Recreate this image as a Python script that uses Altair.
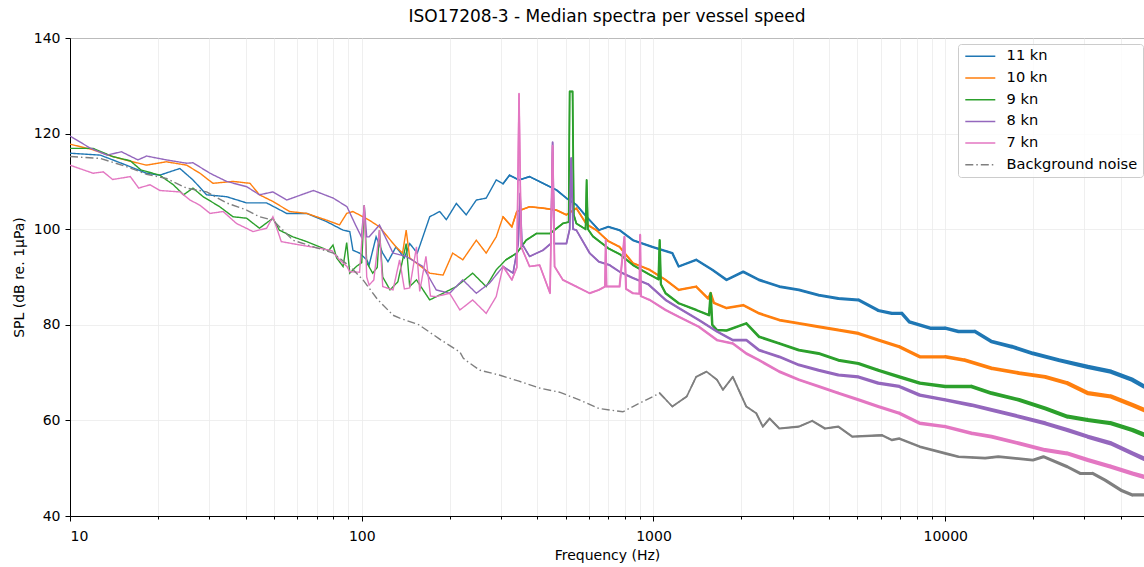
import altair as alt
import pandas as pd

SERIES = ["11 kn", "10 kn", "9 kn", "8 kn", "7 kn", "Background noise"]
COLORS = ["#1f77b4", "#ff7f0e", "#2ca02c", "#9467bd", "#e377c2", "#7f7f7f"]

X_TICKS = [10, 20, 30, 40, 50, 60, 70, 80, 90,
           100, 200, 300, 400, 500, 600, 700, 800, 900,
           1000, 2000, 3000, 4000, 5000, 6000, 7000, 8000, 9000,
           10000, 20000, 30000, 40000]
X_MAJOR = [10, 100, 1000, 10000]
Y_TICKS = [40, 60, 80, 100, 120, 140]

# (frequency Hz, SPL dB)
s11 = [(10, 115.9), (12.7, 115.5), (15.6, 113.4), (18.3, 111.7), (20.3, 111.3), (23.8, 112.7),
       (26.4, 110.3), (29.4, 107.2), (34.4, 106.8), (40.3, 105.5), (47.2, 105.5), (55.3, 103.3),
       (64.8, 103.3), (75.7, 101.6), (86.3, 99.8), (91, 99.5), (93.3, 95.6), (98.3, 95.0),
       (104, 93.6), (106, 92.5), (112, 98.4), (118, 95.0), (123, 93.2), (131, 96.3), (140, 94.0),
       (146, 97.0), (155, 95.0), (162, 98.4), (171, 102.6), (185, 103.7), (195, 102.0),
       (211, 105.4), (228, 103.0), (247, 106.1), (267, 106.5), (289, 110.3), (305, 109.5),
       (321, 111.3), (346, 110.3), (376, 111.0), (418, 109.6), (465, 108.2), (503, 106.5),
       (544, 105.1), (590, 102.6), (650, 99.8), (700, 100.5), (765, 99.8), (850, 97.7),
       (990, 96.3), (1160, 95.0), (1220, 92.2), (1400, 93.6), (1590, 91.5), (1780, 89.4),
       (2030, 91.1), (2300, 89.4), (2700, 88.0), (3150, 87.3), (3680, 86.2), (4300, 85.5),
       (5040, 85.2), (5890, 83.0), (6560, 82.4), (7100, 82.4), (7530, 80.6), (8880, 79.3),
       (10000, 79.3), (11100, 78.6), (12650, 78.6), (14400, 76.5), (16980, 75.4), (19970, 74.0),
       (24500, 72.6), (30800, 71.2), (37000, 70.2), (43800, 68.5), (48000, 67.1)]

s10 = [(10, 117.8), (12, 116.6), (14, 115.2), (16.4, 114.1), (18.3, 113.4), (21.4, 114.1),
       (25.1, 113.4), (27.9, 111.7), (30.9, 109.6), (36.2, 110.0), (41.4, 109.6), (44.6, 107.2),
       (49.6, 105.8), (56.6, 103.7), (64.8, 103.3), (75.7, 101.9), (83.9, 100.9), (88.8, 103.3),
       (93.2, 103.7), (101, 102.6), (106, 101.9), (115, 100.5), (131, 96.3), (138, 95.0),
       (142, 99.8), (146, 94.0), (154, 92.9), (171, 90.8), (190, 90.4), (205, 95.0), (222, 93.6),
       (247, 97.7), (267, 95.0), (289, 98.4), (305, 102.6), (327, 100.5), (340, 103.7),
       (376, 104.7), (418, 104.4), (465, 104.0), (503, 103.0), (544, 104.4), (590, 101.0),
       (637, 99.8), (700, 97.5), (765, 96.3), (850, 92.9), (970, 91.5), (1100, 89.4),
       (1220, 87.3), (1400, 88.0), (1540, 85.5), (1570, 86.6), (1610, 84.6), (1780, 83.5),
       (2030, 84.1), (2300, 82.4), (2700, 81.0), (3150, 80.3), (3680, 79.6), (4300, 78.9),
       (5040, 78.2), (5890, 76.8), (6960, 75.4), (8180, 73.3), (10000, 73.3), (11700, 72.6),
       (14400, 70.9), (17900, 69.9), (22000, 69.1), (26200, 67.8), (30800, 65.7), (37000, 65.0),
       (43800, 63.2), (48000, 62.2)]

s9 = [(10, 116.9), (12, 116.9), (14, 115.2), (16.1, 114.3), (17.5, 112.4), (20.3, 111.3),
      (22.6, 109.3), (24.5, 107.2), (26.4, 108.6), (28.6, 106.8), (32.6, 104.7), (36.2, 102.6),
      (40.3, 102.3), (44.6, 100.2), (49.6, 102.3), (52.2, 99.8), (58.1, 98.4), (64.8, 97.4),
      (71.8, 96.3), (77, 95.5), (79.7, 96.7), (82, 94.0), (86.3, 92.2), (88.8, 97.2), (91, 90.8),
      (95.8, 92.2), (100, 93.0), (102, 105.0), (104, 93.0), (109, 90.8), (113, 92.0), (115, 99.8),
      (118, 90.0), (125, 87.3), (133, 89.0), (142, 97.0), (146, 88.0), (154, 89.4), (171, 85.2),
      (190, 86.6), (211, 88.0), (240, 90.8), (267, 88.0), (289, 91.5), (312, 93.6), (340, 95.0),
      (366, 97.7), (397, 99.1), (442, 99.1), (489, 101.2), (512, 101.5), (516, 128.8),
      (528, 128.8), (533, 103.0), (544, 101.2), (585, 100.0), (590, 110.3), (596, 100.0),
      (620, 98.5), (700, 96.0), (765, 94.8), (850, 92.5), (970, 90.5), (1040, 89.5),
      (1050, 97.7), (1060, 88.5), (1100, 86.6), (1220, 84.5), (1400, 83.1), (1550, 82.0),
      (1570, 86.6), (1590, 80.0), (1650, 78.9), (1780, 78.8), (2080, 80.3), (2300, 77.5),
      (2700, 76.1), (3150, 74.7), (3680, 74.0), (4300, 72.6), (5040, 71.9), (5890, 70.5),
      (6960, 69.1), (8180, 67.8), (10000, 67.1), (12300, 67.1), (14400, 65.7), (17900, 64.3),
      (22000, 62.5), (26200, 60.8), (30800, 60.1), (37000, 59.4), (43800, 58.0), (48000, 57.0)]

s8 = [(10, 119.5), (11.7, 117.0), (13.4, 115.5), (15, 116.2), (17.1, 114.5), (18.3, 115.3),
      (21.4, 114.5), (25.1, 113.8), (26.4, 113.9), (30.2, 111.7), (34.4, 110.0), (40.3, 108.9),
      (44.6, 107.2), (49.6, 107.8), (55.3, 106.1), (68.3, 108.1), (79.9, 106.5), (89, 104.7),
      (95, 101.0), (99.7, 98.4), (102, 105.0), (104, 98.4), (106, 98.4), (115, 100.9),
      (128, 95.0), (142, 94.3), (162, 92.2), (180, 87.3), (200, 86.6), (222, 89.4), (247, 86.6),
      (274, 88.7), (305, 92.2), (330, 90.8), (344, 97.0), (349, 107.5), (354, 97.0), (376, 94.3),
      (418, 95.6), (445, 97.0), (451, 118.2), (457, 97.0), (475, 97.0), (503, 97.0), (516, 100.0),
      (522, 114.9), (530, 100.0), (544, 99.8), (604, 95.0), (650, 93.2), (707, 92.5),
      (765, 91.1), (850, 89.8), (958, 88.5), (1100, 85.2), (1220, 83.5), (1430, 81.0),
      (1650, 78.6), (1870, 76.8), (2080, 76.8), (2300, 74.7), (2700, 73.3), (3150, 71.6),
      (3680, 70.5), (4300, 69.5), (5040, 69.1), (5890, 67.8), (6960, 67.1), (8180, 65.3),
      (10000, 64.3), (12300, 63.2), (14400, 62.2), (17900, 60.8), (22000, 59.4), (26200, 58.0),
      (30800, 56.6), (37000, 55.2), (43800, 53.1), (48000, 52.0)]

s7 = [(10, 113.4), (12, 111.7), (13, 112.0), (14, 110.4), (16.1, 111.0), (17.2, 108.6),
      (18.8, 109.3), (20.3, 108.1), (23.8, 107.8), (25.8, 106.1), (27.9, 105.0), (30.2, 103.3),
      (33.5, 103.7), (37.2, 101.2), (42.4, 99.5), (47.2, 100.2), (49.6, 102.6), (53, 97.4),
      (61.4, 96.7), (71.8, 96.0), (79, 95.5), (83.9, 93.6), (89, 92.2), (91, 91.1), (98.3, 91.0),
      (102, 105.0), (104, 90.0), (106, 88.3), (110, 89.4), (115, 99.8), (118, 88.0), (128, 87.3),
      (134.8, 93.6), (140, 87.5), (146, 87.7), (154, 96.3), (158, 87.0), (166, 94.3), (172, 86.0),
      (180, 85.9), (200, 86.6), (217, 83.1), (240, 85.2), (267, 82.4), (289, 85.9), (305, 92.2),
      (327, 89.4), (340, 92.0), (346, 128.4), (352, 96.3), (376, 92.2), (407, 92.5), (442, 86.6),
      (451, 117.5), (458, 92.2), (489, 89.4), (544, 88.0), (604, 86.6), (650, 87.3), (682, 88.0),
      (686, 97.7), (690, 88.0), (765, 88.0), (795, 98.4), (805, 87.5), (850, 86.6), (895, 86.5),
      (900, 98.8), (905, 86.0), (970, 85.2), (1100, 83.1), (1220, 81.7), (1430, 79.6),
      (1650, 76.8), (1870, 76.1), (2080, 74.0), (2300, 72.6), (2700, 70.2), (3150, 68.5),
      (3680, 67.1), (4300, 65.7), (5040, 64.3), (5890, 62.9), (6960, 61.5), (8180, 59.4),
      (10000, 58.7), (12300, 57.3), (14400, 56.6), (17900, 55.2), (22000, 53.8), (26200, 53.1),
      (30800, 51.7), (37000, 50.3), (43800, 48.9), (48000, 48.2)]

sbg = [(10, 115.2), (12.7, 114.8), (15.6, 113.1), (18.3, 111.5), (21.4, 110.6), (25.1, 108.6),
       (29.4, 107.8), (34.4, 105.5), (40.3, 104.0), (44.6, 102.6), (49.6, 101.9), (58.1, 97.7),
       (68.3, 96.3), (79.9, 95.0), (91, 92.2), (101, 89.4), (113, 85.4), (128, 82.0),
       (135, 81.4), (157, 80.0), (185, 77.0), (217, 74.3), (223, 73.0), (228, 72.5),
       (254, 70.5), (296, 69.5), (346, 68.2), (405, 66.8), (476, 65.9), (557, 64.3), (650, 62.5),
       (785, 61.8), (850, 62.9), (1050, 65.7), (1160, 62.9), (1300, 65.0), (1400, 69.1),
       (1520, 70.2), (1650, 68.5), (1730, 66.4), (1870, 69.1), (2080, 62.9), (2250, 61.5),
       (2370, 58.7), (2500, 60.4), (2700, 58.3), (3150, 58.7), (3500, 59.9), (3870, 58.3),
       (4300, 58.7), (4800, 56.6), (6070, 56.9), (6560, 55.9), (6960, 56.2), (8180, 54.5),
       (10000, 53.1), (11100, 52.4), (13700, 52.1), (15200, 52.4), (19970, 51.7), (21700, 52.4),
       (26200, 50.3), (29000, 48.9), (32000, 48.9), (35300, 47.5), (40000, 45.4), (43800, 44.4),
       (48000, 44.4)]

SERIES_DATA = [s11, s10, s9, s8, s7, sbg]

rows = []
for name, pts in zip(SERIES, SERIES_DATA):
    for f, v in pts:
        rows.append({"s": name, "f": f, "spl": v})
df = pd.DataFrame(rows)

major_test = "indexof([10,100,1000,10000], datum.value) >= 0"

x_enc = alt.X(
    "f:Q",
    scale=alt.Scale(type="log", domain=[10, 48000], nice=False),
    axis=alt.Axis(
        values=X_TICKS,
        format="d",
        labelExpr=f"{major_test} ? datum.label : ''",
        tickSize={"condition": {"test": major_test, "value": 5}, "value": 3},
        title="Frequency (Hz)",
        labelPadding=8,
        titlePadding=5,
    ),
)
y_enc = alt.Y(
    "spl:Q",
    scale=alt.Scale(domain=[40, 140], nice=False, zero=False),
    axis=alt.Axis(values=Y_TICKS, title="SPL (dB re. 1μPa)", tickSize=5,
                  labelPadding=5, titlePadding=7),
)

color_scale = alt.Scale(domain=SERIES, range=COLORS)
dash_scale = alt.Scale(domain=SERIES, range=[[1, 0]] * 5 + [[8, 3, 1.5, 3]])

legend = alt.Legend(
    title=None,
    orient="none",
    legendX=888,
    legendY=6,
    symbolType="M-3,0H3",
    symbolSize=100,
    symbolStrokeWidth=1.5,
    symbolOffset=10,
    labelOffset=19,
    labelFontSize=14.6,
    rowPadding=6.7,
    padding=5,
    strokeColor="#cccccc",
    cornerRadius=3,
    fillColor="rgba(255,255,255,0.8)",
)

vessel_width = "clamp(2.2 + 1.3 * (log(datum.f) / LN10 - 3), 1.3, 5)"
bg_width = "clamp(1.6 + 1.0 * (log(datum.f) / LN10 - 3), 1.3, 4)"

base = alt.Chart(df)
layers = []
for i, name in enumerate(SERIES):
    is_bg = name == "Background noise"
    line = (
        base.transform_filter(alt.datum.s == name)
        .mark_line(strokeWidth=1.4, clip=True)
        .encode(
            x=x_enc,
            y=y_enc,
            color=alt.Color("s:N", scale=color_scale, legend=legend),
            strokeDash=alt.StrokeDash("s:N", scale=dash_scale, legend=legend),
            order=alt.Order("f:Q"),
        )
    )
    thr = 1000 if is_bg else 300
    trail = (
        base.transform_filter((alt.datum.s == name) & (alt.datum.f >= thr))
        .transform_calculate(w=bg_width if is_bg else vessel_width)
        .mark_trail(clip=True)
        .encode(
            x=x_enc,
            y=y_enc,
            color=alt.value(COLORS[i]),
            size=alt.Size("w:Q", scale=None),
            order=alt.Order("f:Q"),
        )
    )
    layers += [line, trail]

chart = (
    alt.layer(*layers)
    .properties(
        width=1074,
        height=478,
        title=alt.TitleParams(
            "ISO17208-3 - Median spectra per vessel speed",
            fontSize=17,
            fontWeight="normal",
            anchor="middle",
            frame="group",
            offset=5,
            color="black",
        ),
        autosize=alt.AutoSizeParams(type="none"),
        padding={"left": 70, "top": 38, "right": 0, "bottom": 51},
    )
    .configure(font="DejaVu Sans")
    .configure_view(stroke="black", strokeWidth=1)
    .configure_axis(
        domainColor="black",
        domainWidth=1,
        tickColor="black",
        tickWidth=1,
        labelColor="black",
        titleColor="black",
        labelFontSize=14,
        titleFontSize=14,
        titleFontWeight="normal",
        labelFont="DejaVu Sans",
        titleFont="DejaVu Sans",
        gridColor="#ebebeb",
        gridWidth=0.8,
    )
    .configure_legend(labelFont="DejaVu Sans", labelColor="black")
)

chart.save("out.html", embed_options={"renderer": "svg", "actions": False})
